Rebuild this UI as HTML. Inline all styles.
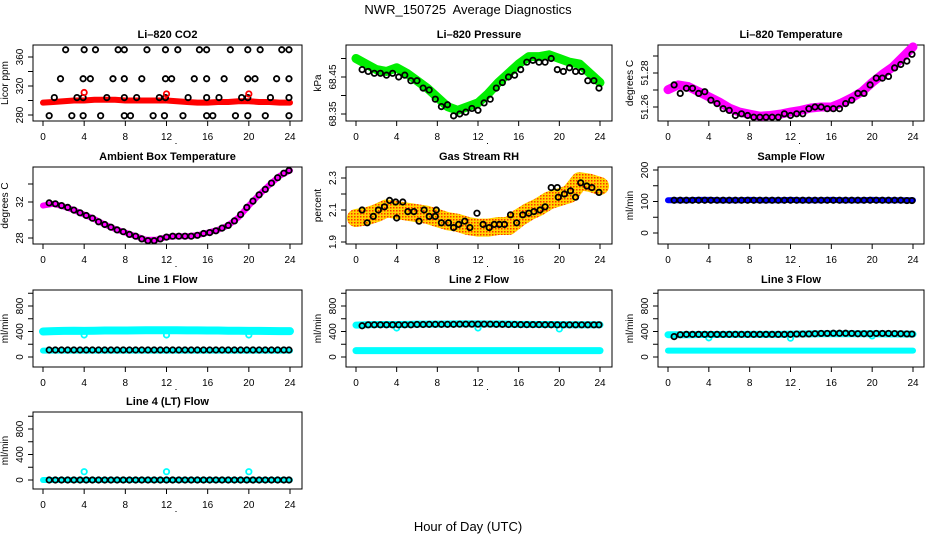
<!DOCTYPE html>
<html><head><meta charset="utf-8"><style>
body{margin:0;background:#fff;}
svg{display:block;font-family:"Liberation Sans",Arial,sans-serif;}
</style></head><body>
<svg id="chart" width="936" height="540" viewBox="0 0 936 540" xmlns="http://www.w3.org/2000/svg">
<defs>
<pattern id="speck" width="3" height="3" patternUnits="userSpaceOnUse">
<rect width="3" height="3" fill="#ffd400"/><rect width="1.5" height="1.5" fill="#ff3000"/>
</pattern>
</defs>
<text x="468" y="14" font-size="13" text-anchor="middle">NWR_150725&#160; Average Diagnostics</text>
<text x="468" y="531" font-size="13" text-anchor="middle">Hour of Day (UTC)</text>
</svg>
<script>
// ---- data ----
const xTicks = [0,4,8,12,16,20,24];
const bandHours = [0,1,2,3,4,5,6,7,8,9,10,11,12,13,14,15,16,17,18,19,20,21,22,23,24];
const blackHours = [0.6,1.2,1.8,2.4,3.0,3.6,4.2,4.8,5.4,6.0,6.6,7.2,7.8,8.4,9.0,9.6,10.2,10.8,11.4,12.0,12.6,13.2,13.8,14.4,15.0,15.6,16.2,16.8,17.4,18.0,18.6,19.2,19.8,20.4,21.0,21.6,22.2,22.8,23.4,23.9];

// CO2
const co2Band = [297,298,299,300,300,301,301,301,300,300,300,300,300,299,298,297,297,298,298,299,299,298,298,297,297];
const co2BlackHours = [2.2,4.0,5.1,7.3,7.9,10.1,11.9,13.1,15.2,15.9,18.2,19.9,21.1,23.2,23.9, 1.7,3.9,4.6,6.8,7.9,9.6,11.9,12.5,14.7,15.9,17.6,19.9,20.6,22.7,23.9, 1.1,3.3,3.9,6.2,7.9,9.1,11.3,11.9,14.1,15.9,17.1,19.3,19.9,22.1,23.9, 0.6,2.8,3.9,5.6,7.9,8.5,10.7,11.8,13.6,15.9,16.5,18.7,19.9,21.6,23.9];
const co2Black = [370,370,370,370,370,370,370,370,370,370,370,370,370,370,370, 330,330,330,330,330,330,330,330,330,330,330,330,330,330,330, 304,304,304,304,304,304,304,304,304,304,304,304,304,304,304, 279,279,279,279,279,279,279,279,279,279,279,279,279,279,279];
const co2OutHours = [4,12,20];
const co2Out = [311,309,309];

// Pressure
const presBand = [68.50,68.485,68.47,68.465,68.475,68.46,68.44,68.42,68.395,68.37,68.36,68.37,68.38,68.405,68.435,68.46,68.485,68.505,68.505,68.51,68.50,68.49,68.485,68.46,68.435];
const presBlack = [68.47,68.465,68.46,68.46,68.455,68.46,68.45,68.455,68.44,68.44,68.42,68.415,68.39,68.37,68.375,68.345,68.35,68.355,68.365,68.36,68.38,68.39,68.42,68.435,68.45,68.455,68.47,68.49,68.495,68.49,68.49,68.50,68.47,68.465,68.475,68.465,68.465,68.44,68.44,68.42];

// Li-820 temperature
const tempBand = [51.2702,51.273,51.272,51.269,51.266,51.263,51.2594,51.257,51.2558,51.2546,51.255,51.2558,51.257,51.258,51.2594,51.26,51.26,51.2624,51.2654,51.269,51.2744,51.2792,51.2834,51.2894,51.2954];
const tempBlack = [51.273,51.268,51.271,51.271,51.268,51.269,51.264,51.262,51.259,51.258,51.255,51.256,51.255,51.254,51.254,51.254,51.254,51.254,51.256,51.255,51.256,51.256,51.259,51.26,51.26,51.259,51.259,51.259,51.262,51.264,51.268,51.268,51.273,51.277,51.277,51.278,51.283,51.285,51.287,51.291];

// Ambient box temperature
const ambBand = [31.6,31.8,31.5,31.1,30.6,30.1,29.5,29.0,28.6,28.2,27.8,27.8,28.1,28.2,28.2,28.3,28.6,28.9,29.4,30.3,31.6,32.8,33.9,34.9,35.5];
const ambBlack = [31.9,31.8,31.6,31.4,31.1,30.8,30.5,30.2,29.8,29.5,29.2,28.9,28.7,28.4,28.2,27.9,27.7,27.7,27.9,28.1,28.2,28.2,28.2,28.2,28.3,28.5,28.6,28.8,29.1,29.4,29.9,30.6,31.4,32.1,32.8,33.4,34.1,34.7,35.2,35.5];

// Gas stream RH
const rhBand = [2.05,2.06,2.08,2.11,2.1,2.09,2.08,2.07,2.05,2.03,2.02,2.0,1.99,1.99,2.0,2.0,2.05,2.09,2.12,2.16,2.18,2.2,2.28,2.27,2.25];
const rhBlackHours = [0.6,1.1,1.7,2.2,2.8,3.3,3.9,4.0,4.6,5.1,5.7,6.2,6.7,7.2,7.8,7.9,8.4,9.1,9.6,10.1,10.7,11.2,11.9,12.5,13.1,13.6,14.1,14.6,15.2,15.8,16.4,17.0,17.5,18.1,18.6,19.2,19.8,19.9,20.5,21.1,21.6,22.1,22.7,23.2,23.9];
const rhBlack = [2.10,2.02,2.06,2.10,2.12,2.16,2.15,2.05,2.15,2.09,2.09,2.03,2.10,2.06,2.06,2.10,2.02,2.02,1.99,2.01,2.03,1.99,2.08,2.01,1.99,2.01,2.01,2.01,2.07,2.02,2.07,2.08,2.09,2.10,2.12,2.24,2.24,2.18,2.20,2.22,2.18,2.27,2.25,2.24,2.21];

// Sample flow
const sampBand = [104,104,104,105,105,104,104,104,105,104,104,104,105,104,104,104,105,104,104,104,105,104,104,104,104];
const sampBlack = [104,104,104,104,104,104,104,104,104,104,104,104,104,104,104,104,104,104,104,104,104,104,104,104,104,104,104,104,104,104,104,104,104,104,104,104,104,104,103,103];

// Line flows
const l1High = [400,405,410,412,410,412,415,415,415,418,420,420,420,420,418,418,415,415,412,412,410,410,408,405,405];
const l1Low = [100,100,100,100,100,100,100,100,100,100,100,100,100,100,100,100,100,100,100,100,100,100,100,100,100];
const l1Black = [110,110,110,110,110,110,110,110,110,110,110,110,110,110,110,110,110,110,110,110,110,110,110,110,110,110,110,110,110,110,110,110,110,110,110,110,110,110,110,110];
const l1OutHours = [4,12,20];
const l1Out = [345,345,345];

const l2High = [500,505,510,510,510,512,515,515,515,518,520,520,520,518,518,515,512,512,510,510,508,505,505,505,505];
const l2Low = [100,100,100,100,100,100,100,100,100,100,100,100,100,100,100,100,100,100,100,100,100,100,100,100,100];
const l2Black = [490,505,505,505,505,505,505,505,505,510,510,512,512,512,512,512,515,515,515,515,515,515,512,512,510,510,508,508,508,508,506,506,505,505,505,505,505,505,505,505];
const l2OutHours = [4,12,20];
const l2Out = [455,455,440];

const l3High = [350,350,350,352,352,352,355,355,355,355,355,355,358,360,362,365,365,365,365,365,365,362,360,360,358];
const l3Low = [100,100,100,100,100,100,100,100,100,100,100,100,100,100,100,100,100,100,100,100,100,100,100,100,100];
const l3Black = [320,350,355,355,355,355,355,355,355,355,355,355,355,355,355,355,355,355,355,355,360,360,362,365,370,370,372,372,372,370,365,365,365,370,370,370,368,365,362,360];
const l3OutHours = [4,12,20];
const l3Out = [300,295,330];

const l4Band = [0,0,0,0,0,0,0,0,0,0,0,0,0,0,0,0,0,0,0,0,0,0,0,0,0];
const l4Black = [0,0,0,0,0,0,0,0,0,0,0,0,0,0,0,0,0,0,0,0,0,0,0,0,0,0,0,0,0,0,0,0,0,0,0,0,0,0,0,0];
const l4OutHours = [4,12,20];
const l4Out = [130,130,130];

// ---- drawing ----
const svg = document.getElementById('chart');
const NS = 'http://www.w3.org/2000/svg';
const colBox = [[33,302,43,290],[346,612,356,600],[658,924,668,913]];
const rowBox = [[45,121],[167,244],[290,367],[412,489]];

function mk(tag, parent){ const e=document.createElementNS(NS,tag); parent.appendChild(e); return e; }

function panel(col,row,name,title,ylab,ref,yTicks,yLabels){
  const [L,R,x0,x24]=colBox[col]; const [T,B]=rowBox[row];
  const g = mk('g',svg);
  
  
  const xs = h => x0 + (x24-x0)*h/24;
  const ys = v => ref[1] + (v-ref[0])*(ref[3]-ref[1])/(ref[2]-ref[0]);
  const box = mk('rect',g);
  
  
  box.setAttribute('x',L);box.setAttribute('y',T);box.setAttribute('width',R-L);box.setAttribute('height',B-T);
  box.setAttribute('fill','none');box.setAttribute('stroke','#000');
  const t = mk('text',g);
  
  
  t.setAttribute('x',(L+R)/2);t.setAttribute('y',T-7);t.setAttribute('text-anchor','middle');
  t.setAttribute('font-size','11');t.setAttribute('font-weight','bold');t.textContent=title;
  xTicks.forEach(h=>{
    const tk=mk('line',g);
    
    
    tk.setAttribute('x1',xs(h));tk.setAttribute('x2',xs(h));tk.setAttribute('y1',B);tk.setAttribute('y2',B+5);tk.setAttribute('stroke','#000');
    const lb=mk('text',g);
    
    
    lb.setAttribute('x',xs(h));lb.setAttribute('y',B+19);lb.setAttribute('text-anchor','middle');lb.setAttribute('font-size','10');lb.textContent=h;
  });
  const dot=mk('rect',g);
  
  
  dot.setAttribute('x',(L+R)/2+8);dot.setAttribute('y',B+22);dot.setAttribute('width',1);dot.setAttribute('height',1);dot.setAttribute('fill','#000');
  yTicks.forEach((v,i)=>{
    const y=ys(v);
    const tk=mk('line',g);
    
    
    tk.setAttribute('x1',L-5);tk.setAttribute('x2',L);tk.setAttribute('y1',y);tk.setAttribute('y2',y);tk.setAttribute('stroke','#000');
    if(yLabels[i]!==''){
      const lb=mk('text',g);
      
      
      lb.setAttribute('transform','translate('+(L-10)+','+y+') rotate(-90)');
      lb.setAttribute('text-anchor','middle');lb.setAttribute('font-size','10');lb.textContent=yLabels[i];
    }
  });
  const yl=mk('text',g);
  
  
  yl.setAttribute('transform','translate('+(L-25)+','+((T+B)/2)+') rotate(-90)');
  yl.setAttribute('text-anchor','middle');yl.setAttribute('font-size','10');yl.textContent=ylab;
  const clip = mk('g',g);
  return {g:clip,xs,ys};
}
function band(p,hours,vals,color,w,name){
  const pl=mk('polyline',p.g);
  
  
  pl.setAttribute('points',hours.map((h,i)=>p.xs(h)+','+p.ys(vals[i])).join(' '));
  pl.setAttribute('fill','none');pl.setAttribute('stroke',color);pl.setAttribute('stroke-width',w);
  pl.setAttribute('stroke-linejoin','round');pl.setAttribute('stroke-linecap','round');
}
function pts(p,hours,vals,color,name){
  hours.forEach((h,i)=>{
    const c=mk('circle',p.g);
    
    
    c.setAttribute('cx',p.xs(h));c.setAttribute('cy',p.ys(vals[i]));c.setAttribute('r',2.7);
    c.setAttribute('fill','none');c.setAttribute('stroke',color);c.setAttribute('stroke-width',1.8);
  });
}

let p;
p=panel(0,0,'co2','Li\u2013820 CO2','Licor ppm',[280,115,360,57],[280,300,320,340,360],['280','','320','','360']);
band(p,bandHours,co2Band,'#ff0000',6,'co2-band');
pts(p,co2BlackHours,co2Black,'#000','co2-point');
pts(p,co2OutHours,co2Out,'#ff0000','co2-outlier');

p=panel(1,0,'pressure','Li\u2013820 Pressure','kPa',[68.35,114,68.45,77],[68.35,68.40,68.45,68.50],['68.35','','68.45','']);
band(p,bandHours,presBand,'#00ee00',9,'pressure-band');
pts(p,blackHours,presBlack,'#000','pressure-point');

p=panel(2,0,'temperature','Li\u2013820 Temperature','degrees C',[51.26,107,51.28,73],[51.26,51.27,51.28,51.29],['51.26','','51.28','']);
band(p,bandHours,tempBand,'#ff00ff',9,'temperature-band');
pts(p,blackHours,tempBlack,'#000','temperature-point');

p=panel(0,1,'ambient','Ambient Box Temperature','degrees C',[28,238,32,202],[28,30,32,34],['28','','32','']);
band(p,bandHours,ambBand,'#ff00ff',6,'ambient-band');
pts(p,blackHours,ambBlack,'#000','ambient-point');

p=panel(1,1,'gas-rh','Gas Stream RH','percent',[1.9,242,2.3,178],[1.9,2.0,2.1,2.2,2.3],['1.9','','2.1','','2.3']);
band(p,bandHours,rhBand,'url(#speck)',18,'rh-band');
pts(p,rhBlackHours,rhBlack,'#000','rh-point');

p=panel(2,1,'sample-flow','Sample Flow','ml/min',[0,233,200,170],[0,50,100,150,200],['0','','100','','200']);
band(p,bandHours,sampBand,'#0000ff',6,'sample-band');
pts(p,blackHours,sampBlack,'#000','sample-point');

const flowTicks=[0,200,400,600,800,1000], flowLabels=['0','','400','','800',''];
p=panel(0,2,'line1','Line 1 Flow','ml/min',[0,357,800,306],flowTicks,flowLabels);
band(p,bandHours,l1High,'#00ffff',8,'line1-high-band');
band(p,bandHours,l1Low,'#00ffff',6,'line1-low-band');
pts(p,l1OutHours,l1Out,'#00ffff','line1-outlier');
pts(p,blackHours,l1Black,'#000','line1-point');

p=panel(1,2,'line2','Line 2 Flow','ml/min',[0,357,800,306],flowTicks,flowLabels);
band(p,bandHours,l2High,'#00ffff',7,'line2-high-band');
band(p,bandHours,l2Low,'#00ffff',7,'line2-low-band');
pts(p,l2OutHours,l2Out,'#00ffff','line2-outlier');
pts(p,blackHours,l2Black,'#000','line2-point');

p=panel(2,2,'line3','Line 3 Flow','ml/min',[0,357,800,306],flowTicks,flowLabels);
band(p,bandHours,l3High,'#00ffff',7,'line3-high-band');
band(p,bandHours,l3Low,'#00ffff',6,'line3-low-band');
pts(p,l3OutHours,l3Out,'#00ffff','line3-outlier');
pts(p,blackHours,l3Black,'#000','line3-point');

p=panel(0,3,'line4','Line 4 (LT) Flow','ml/min',[0,480,800,429],flowTicks,flowLabels);
band(p,bandHours,l4Band,'#00ffff',6,'line4-band');
pts(p,l4OutHours,l4Out,'#00ffff','line4-outlier');
pts(p,blackHours,l4Black,'#000','line4-point');
</script>
</body></html>
